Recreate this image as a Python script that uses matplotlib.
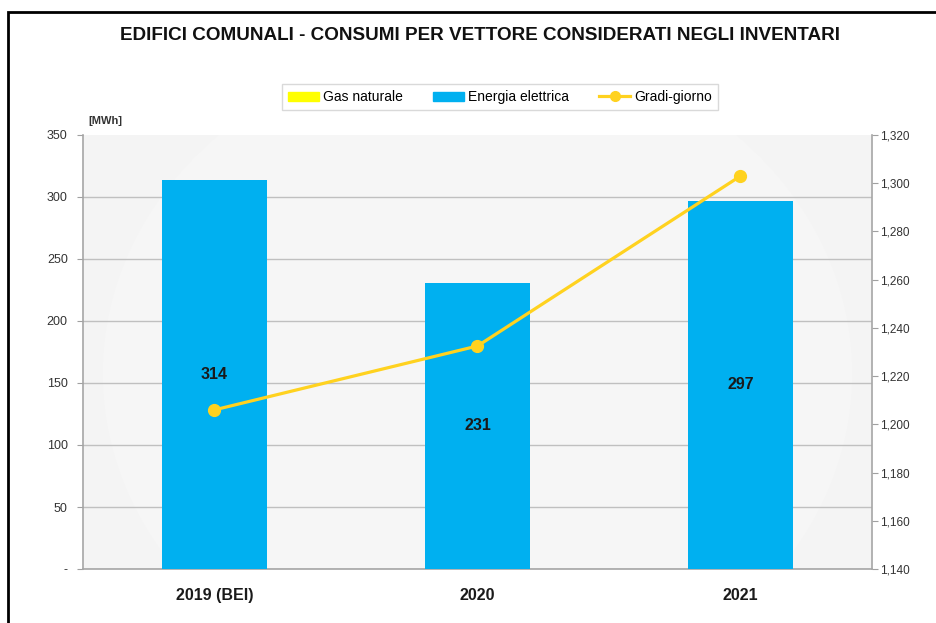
import matplotlib
matplotlib.use('Agg')
import matplotlib.pyplot as plt
from matplotlib.patches import Rectangle, Ellipse
from matplotlib.ticker import FuncFormatter

# data
categories = ['2019 (BEI)', '2020', '2021']
gas_naturale = [0, 0, 0]
energia_elettrica = [314, 231, 297]
gradi_giorno = [1206, 1232.5, 1303]

plt.rcParams['font.family'] = ['Liberation Sans', 'DejaVu Sans']

fig = plt.figure(figsize=(9.37, 6.23), dpi=100, facecolor='white')
W, H = 937, 623
ax = fig.add_axes([83 / W, 1 - 569 / H, (872 - 83) / W, (569 - 135) / H])
ax.set_facecolor('#f2f2f2')

# faint radial background
for r, c in [(1.25, '#f4f4f4'), (0.95, '#f6f6f6')]:
    ax.add_patch(Ellipse((0.5, 0.45), r, r * 1.6, transform=ax.transAxes,
                         facecolor=c, edgecolor='none', zorder=0))

x = list(range(len(categories)))
ax.bar(x, gas_naturale, width=0.4, color='#ffff00', zorder=3)
bars = ax.bar(x, energia_elettrica, width=0.4, bottom=gas_naturale,
              color='#00b0f0', zorder=3)
for xi, v in zip(x, energia_elettrica):
    ax.text(xi, v / 2, f'{v}', ha='center', va='center', fontsize=11.5,
            fontweight='bold', color='#1a1a1a', zorder=6)

ax.set_xlim(-0.5, 2.5)
ax.set_ylim(0, 350)
ax.set_yticks(range(0, 351, 50))
ax.yaxis.set_major_formatter(FuncFormatter(lambda v, p: '-' if v == 0 else f'{int(v)}'))
ax.grid(axis='y', color='#c0c0c0', linewidth=1, zorder=1)
ax.set_axisbelow(True)
ax.yaxis.get_gridlines()[-1].set_visible(False)
ax.set_xticks(x)
ax.set_xticklabels(categories, fontsize=11.5, fontweight='bold', color='#1a1a1a')
ax.tick_params(axis='x', length=0, pad=14)
ax.tick_params(axis='y', colors='#a0a0a0', labelcolor='#333333', labelsize=9,
               length=4, pad=7)
for s in ['top', 'right']:
    ax.spines[s].set_visible(False)
for s in ['left', 'bottom']:
    ax.spines[s].set_color('#a6a6a6')
    ax.spines[s].set_linewidth(1.2)

ax2 = ax.twinx()
ax2.plot(x, gradi_giorno, color='#ffd21f', linewidth=2.3, marker='o',
         markersize=8.5, markerfacecolor='#ffd21f', markeredgecolor='#ffd21f',
         zorder=5)
ax2.set_ylim(1140, 1320)
ax2.set_yticks(range(1140, 1321, 20))
ax2.yaxis.set_major_formatter(FuncFormatter(lambda v, p: f'{int(v):,}'))
ax2.tick_params(axis='y', colors='#a0a0a0', labelcolor='#333333', labelsize=8.5,
                length=4, pad=2)
for s in ['top', 'left', 'bottom']:
    ax2.spines[s].set_visible(False)
ax2.spines['right'].set_color('#a6a6a6')
ax2.spines['right'].set_linewidth(1.2)

# legend
handles = [Rectangle((0, 0), 1, 1, color='#ffff00'),
           Rectangle((0, 0), 1, 1, color='#00b0f0'),
           plt.Line2D([], [], color='#ffd21f', linewidth=2.3, marker='o',
                      markersize=7)]
fig.legend(handles, ['Gas naturale', 'Energia elettrica', 'Gradi-giorno'],
           loc='center', bbox_to_anchor=(500 / W, 1 - 97 / H), ncol=3,
           fontsize=10, frameon=True, fancybox=False, edgecolor='#d0d0d0',
           handlelength=2.2, handleheight=0.6, columnspacing=2.2,
           handletextpad=0.3, borderpad=0.4, borderaxespad=0)

fig.text(480 / W, 1 - 36 / H, 'EDIFICI COMUNALI - CONSUMI PER VETTORE CONSIDERATI NEGLI INVENTARI',
         ha='center', va='center', fontsize=13.6, fontweight='bold', color='#111111')
fig.text(88 / W, 1 - 121 / H, '[MWh]', ha='left', va='center', fontsize=8,
         fontweight='bold', color='#333333')

# outer frame
fig.patches.append(Rectangle((8 / W, -0.05), 1.1, 1 - 12 / H + 0.05,
                             transform=fig.transFigure, fill=False,
                             edgecolor='black', linewidth=2))

fig.savefig('out.png', dpi=100, facecolor='white')
